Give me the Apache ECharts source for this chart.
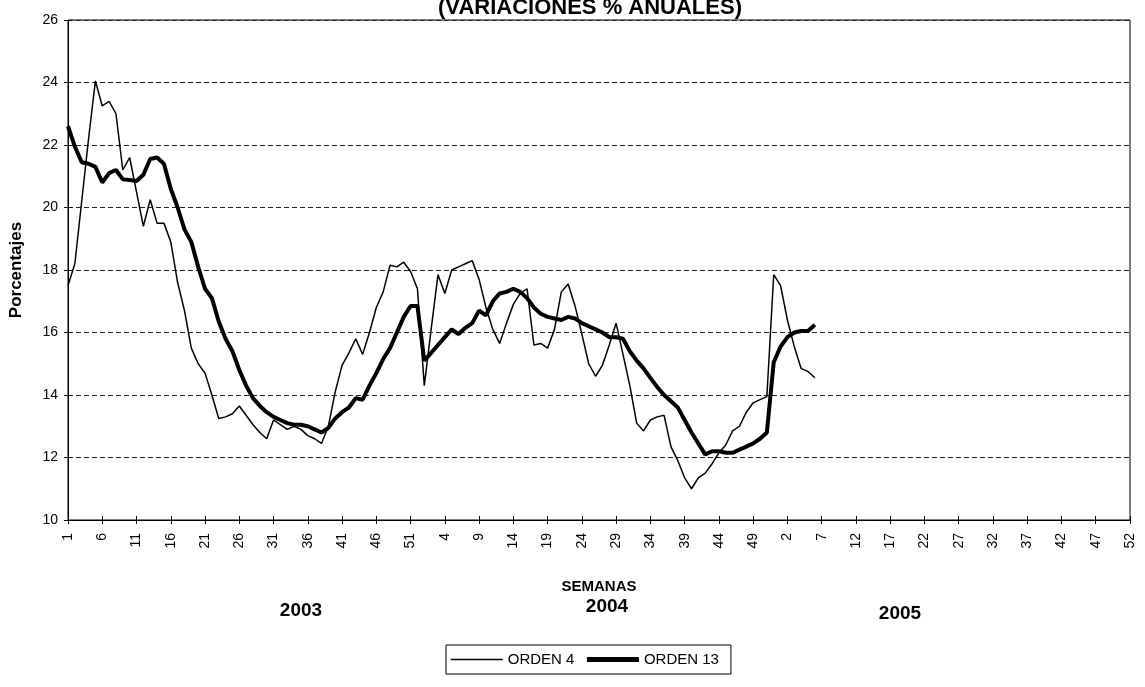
<!DOCTYPE html>
<html>
<head>
<meta charset="utf-8">
<script src="https://cdn.jsdelivr.net/npm/echarts@6/dist/echarts.min.js"></script>
<style>
  html, body { margin: 0; padding: 0; background: #fff; }
  #chart { width: 1145px; height: 687px; }
</style>
</head>
<body>
<div id="chart"></div>
<script>
// weeks shown on the x axis: three years of 52 weeks each
const years = ["2003", "2004", "2005"];
const weeksPerYear = 52;

// ORDEN 4 (thin line), % anual, from 2003 week 1
const orden4 = [
  17.5, 18.2, 20.2, 22.2, 24.05, 23.25, 23.4, 23.0, 21.2, 21.6,
  20.5, 19.4, 20.25, 19.5, 19.5, 18.9, 17.6, 16.7, 15.5, 15.0,
  14.7, 14.0, 13.25, 13.3, 13.4, 13.65, 13.35, 13.05, 12.8, 12.6,
  13.2, 13.05, 12.9, 13.0, 12.9, 12.7, 12.6, 12.45, 13.0, 14.1,
  14.95, 15.35, 15.8, 15.3, 16.0, 16.8, 17.3, 18.15, 18.1, 18.25,
  17.95, 17.4, 14.3, 16.1, 17.85, 17.25, 18.0, 18.1, 18.2, 18.3,
  17.7, 16.8, 16.1, 15.65, 16.3, 16.9, 17.25, 17.4, 15.6, 15.65,
  15.5, 16.1, 17.3, 17.55, 16.85, 15.95, 15.0, 14.6, 14.95, 15.6,
  16.3, 15.3, 14.3, 13.1, 12.85, 13.2, 13.3, 13.35, 12.35, 11.9,
  11.35, 11.0, 11.35, 11.5, 11.8, 12.15, 12.4, 12.85, 13.0, 13.45,
  13.75, 13.85, 13.95, 17.85, 17.5, 16.4, 15.55, 14.85, 14.75, 14.55
];

// ORDEN 13 (thick line)
const orden13 = [
  22.6, 21.95, 21.45, 21.4, 21.3, 20.8, 21.1, 21.2, 20.9, 20.88,
  20.85, 21.05, 21.55, 21.6, 21.4, 20.6, 20.0, 19.3, 18.9, 18.1,
  17.4, 17.1, 16.35, 15.8, 15.4, 14.8, 14.3, 13.9, 13.65, 13.45,
  13.3, 13.2, 13.1, 13.05, 13.05, 13.0, 12.9, 12.8, 12.95, 13.25,
  13.45, 13.6, 13.9, 13.85, 14.3, 14.7, 15.15, 15.5, 16.0, 16.5,
  16.85, 16.85, 15.1, 15.35, 15.6, 15.85, 16.1, 15.95, 16.15, 16.3,
  16.7, 16.55, 17.0, 17.25, 17.3, 17.4, 17.3, 17.1, 16.8, 16.6,
  16.5, 16.45, 16.4, 16.5, 16.45, 16.3, 16.2, 16.1, 16.0, 15.85,
  15.85, 15.8, 15.4, 15.1, 14.85, 14.55, 14.25, 14.0, 13.8, 13.6,
  13.2, 12.8, 12.45, 12.1, 12.2, 12.2, 12.15, 12.15, 12.25, 12.35,
  12.45, 12.6, 12.8, 15.05, 15.55, 15.85, 16.0, 16.05, 16.05, 16.25
];

const weeks = [];
years.forEach(() => {
  for (let w = 1; w <= weeksPerYear; w++) weeks.push(String(w));
});

const font = "'Liberation Sans', Arial, sans-serif";

const option = {
  animation: false,
  textStyle: { fontFamily: font, color: "#000" },
  grid: {
    left: 64, right: 15, top: 20, bottom: 167,
    show: true, borderColor: "#000", borderWidth: 1
  },
  legend: {
    left: 446, top: 645,
    borderColor: "#000", borderWidth: 1,
    padding: [7, 12, 7, 4],
    itemWidth: 52, itemHeight: 14, itemGap: 10,
    itemStyle: { opacity: 0 },
    textStyle: { fontSize: 15, color: "#000", fontFamily: font },
    data: [
      { name: "ORDEN 4", lineStyle: { width: 1.5, color: "#000" } },
      { name: "ORDEN 13", lineStyle: { width: 5, color: "#000" } }
    ]
  },
  xAxis: [
    {
      type: "category",
      data: weeks,
      boundaryGap: false,
      name: "SEMANAS",
      nameLocation: "middle",
      nameGap: 59,
      nameTextStyle: { fontWeight: "bold", fontSize: 15, color: "#000" },
      axisLine: { lineStyle: { color: "#000", width: 1 } },
      axisTick: { interval: 4, length: 4, lineStyle: { color: "#000" } },
      axisLabel: { interval: 4, rotate: 90, margin: 13, fontSize: 14, color: "#000" },
      splitLine: { show: false }
    },
    {
      // inner half of the cross ticks
      type: "category",
      data: weeks,
      boundaryGap: false,
      position: "bottom",
      axisLine: { show: false },
      axisTick: { interval: 4, length: 4, inside: true, lineStyle: { color: "#000" } },
      axisLabel: { show: false },
      splitLine: { show: false }
    }
  ],
  yAxis: [
    {
      type: "value",
      min: 10, max: 26, interval: 2,
      name: "Porcentajes",
      nameLocation: "middle",
      nameGap: 43,
      nameTextStyle: { fontWeight: "bold", fontSize: 17, color: "#000" },
      axisLine: { show: true, lineStyle: { color: "#000", width: 1 } },
      axisTick: { show: true, length: 4, lineStyle: { color: "#000" } },
      axisLabel: { fontSize: 14, margin: 10, color: "#000" },
      splitLine: { show: true, lineStyle: { color: "#222", type: [5, 3], width: 1 } }
    },
    {
      type: "value",
      min: 10, max: 26, interval: 2,
      position: "left",
      axisLine: { show: false },
      axisTick: { show: true, inside: true, length: 4, lineStyle: { color: "#000" } },
      axisLabel: { show: false },
      splitLine: { show: false }
    }
  ],
  graphic: [
    {
      type: "text", x: 590, y: 19,
      style: { text: "(VARIACIONES % ANUALES)", font: "bold 22px " + font, fill: "#000", align: "center", verticalAlign: "bottom" }
    },
    {
      type: "text", x: 301, y: 611,
      style: { text: years[0], font: "bold 19px " + font, fill: "#000", align: "center", verticalAlign: "middle" }
    },
    {
      type: "text", x: 607, y: 607,
      style: { text: years[1], font: "bold 19px " + font, fill: "#000", align: "center", verticalAlign: "middle" }
    },
    {
      type: "text", x: 900, y: 614,
      style: { text: years[2], font: "bold 19px " + font, fill: "#000", align: "center", verticalAlign: "middle" }
    }
  ],
  series: [
    {
      name: "ORDEN 4",
      type: "line",
      data: orden4,
      symbol: "none",
      lineStyle: { color: "#000", width: 1.5 },
      itemStyle: { color: "#000" }
    },
    {
      name: "ORDEN 13",
      type: "line",
      data: orden13,
      symbol: "none",
      lineStyle: { color: "#000", width: 4 },
      itemStyle: { color: "#000" }
    }
  ]
};

const myChart = echarts.init(document.getElementById("chart"));
myChart.setOption(option);
</script>
</body>
</html>
